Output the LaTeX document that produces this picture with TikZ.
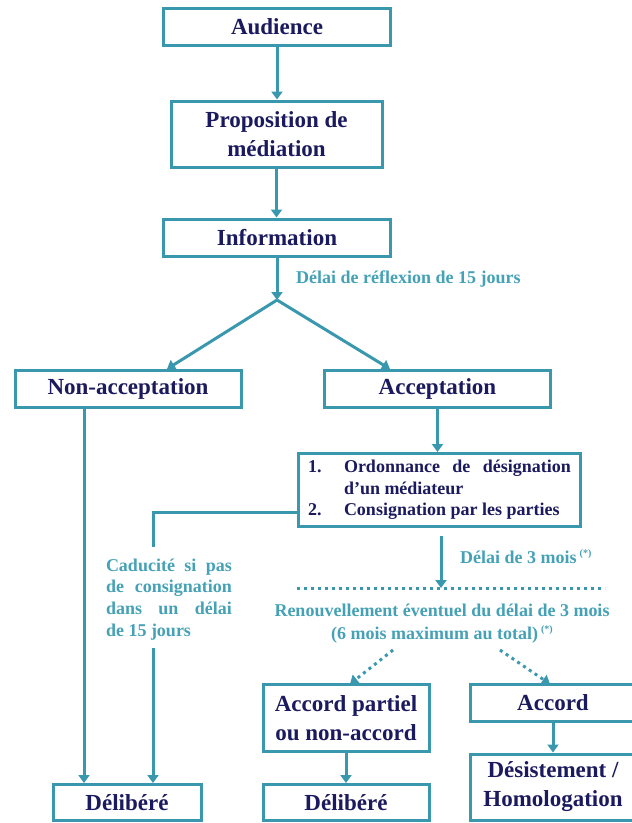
\documentclass[tikz,border=0pt]{standalone}
\usepackage{fontspec}
\setmainfont{Liberation Serif}
\usetikzlibrary{arrows.meta,calc}
\definecolor{teal1}{HTML}{3A98AE}
\definecolor{navy1}{HTML}{1B1A5E}
\definecolor{lab1}{HTML}{45A1B6}
\newcommand{\ttlfont}{\fontsize{23}{29}\selectfont\bfseries}
\newcommand{\lblfont}{\fontsize{18}{23}\selectfont\bfseries}
\newcommand{\ordfont}{\fontsize{18}{21.5}\selectfont\bfseries}
\newcommand{\cadfont}{\fontsize{18}{21.7}\selectfont\bfseries}
\newcommand{\mystar}{\,\raisebox{7pt}{\fontsize{10}{10}\selectfont(*)}}
\begin{document}
\begin{tikzpicture}[x=1pt,y=-1pt,
  box/.style={draw=teal1, line width=3pt, fill=white, inner sep=0pt, text=navy1, font=\ttlfont, align=center},
  lab/.style={text=lab1, font=\lblfont, inner sep=0pt},
  arr/.style={draw=teal1, line width=3pt, -{Triangle[width=11pt,length=8pt]}},
  ln/.style={draw=teal1, line width=3pt},
  dots/.style={draw=teal1, line width=3pt, dash pattern=on 3pt off 4pt}]
\useasboundingbox (0,0) rectangle (632,823);

\node[box, minimum width=227pt, minimum height=37pt] (aud) at (277,27) {Audience};
\node[box, minimum width=211pt, minimum height=66pt] (prop) at (276.5,134) {Proposition de\\médiation};
\node[box, minimum width=227pt, minimum height=37pt] (info) at (277,237.5) {Information};
\coordinate (br) at (277,300);
\node[lab, anchor=west] (l1) at (296,279) {Délai de réflexion de 15 jours};
\node[box, minimum width=226pt, minimum height=37pt] (nonacc) at (128,389) {Non-acceptation};
\node[box, minimum width=226pt, minimum height=37pt] (acc) at (437.5,389) {Acceptation};
\node[box, minimum width=282pt, minimum height=73pt, font=\ordfont, align=left] (ord) at (439.5,490)
  {\makebox[36pt][l]{1.}\makebox[227pt][s]{Ordonnance de désignation}\\
   \hspace*{36pt}d’un médiateur\\
   \makebox[36pt][l]{2.}Consignation par les parties};
\node[lab, font=\cadfont, align=left] (cad) at (169,599.5)
  {\makebox[126pt][s]{Caducité si pas}\\
   \makebox[126pt][s]{de consignation}\\
   \makebox[126pt][s]{dans un délai}\\
   de 15 jours};
\node[lab, anchor=west] (l3) at (460,557) {Délai de 3 mois\mystar};
\coordinate (dotL) at (297,588);
\coordinate (dotR) at (605,588);
\node[lab, align=center] (ren) at (442,623.5) {Renouvellement éventuel du délai de 3 mois\\(6 mois maximum au total)\mystar};
\node[box, minimum width=166pt, minimum height=67pt] (part) at (346,718) {Accord partiel\\ou non-accord};
\node[box, minimum width=166pt, minimum height=37pt] (accord) at (553,703) {Accord};
\node[box, minimum width=148pt, minimum height=36pt] (del1) at (127,802.5) {Délibéré};
\node[box, minimum width=166pt, minimum height=36pt] (del2) at (346,802.5) {Délibéré};
\node[box, minimum width=166pt, minimum height=66pt] (des) at (553,787) {Désistement /\\Homologation};

% connectors
\draw[arr] (aud.south) -- (aud.south |- prop.north);
\draw[arr] (prop.south) -- (prop.south |- info.north);
\draw[arr] (info.south) -- (br);
\coordinate (tl) at (167,366);
\coordinate (tr) at (390,366);
\draw[arr] (br) -- (nonacc.north -| tl);
\draw[arr] (br) -- (acc.north -| tr);
\coordinate (vL) at (84,0);
\draw[arr] (nonacc.south -| vL) -- (del1.north -| vL);
\draw[arr] (acc.south) -- (acc.south |- ord.north);
\coordinate (k) at (153,512);
\coordinate (k2) at (153,547);
\draw[ln] (ord.west |- k) -- (k) -- (k2);
\coordinate (k3) at (153,648);
\draw[arr] (k3) -- (del1.north -| k3);
\coordinate (dtop) at (441,536);
\coordinate (dbot) at (441,588);
\draw[arr] (dtop) -- (dbot);
\draw[dots] (dotL) -- (dotR);
\coordinate (a1) at (393,650);
\coordinate (a2) at (350,684);
\draw[dots, -{Triangle[width=11pt,length=8pt]}] (a1) -- (a2);
\coordinate (b1) at (500,650);
\coordinate (b2) at (550,684);
\draw[dots, -{Triangle[width=11pt,length=8pt]}] (b1) -- (b2);
\draw[arr] (part.south) -- (del2.north);
\draw[arr] (accord.south) -- (des.north);
\end{tikzpicture}
\end{document}
